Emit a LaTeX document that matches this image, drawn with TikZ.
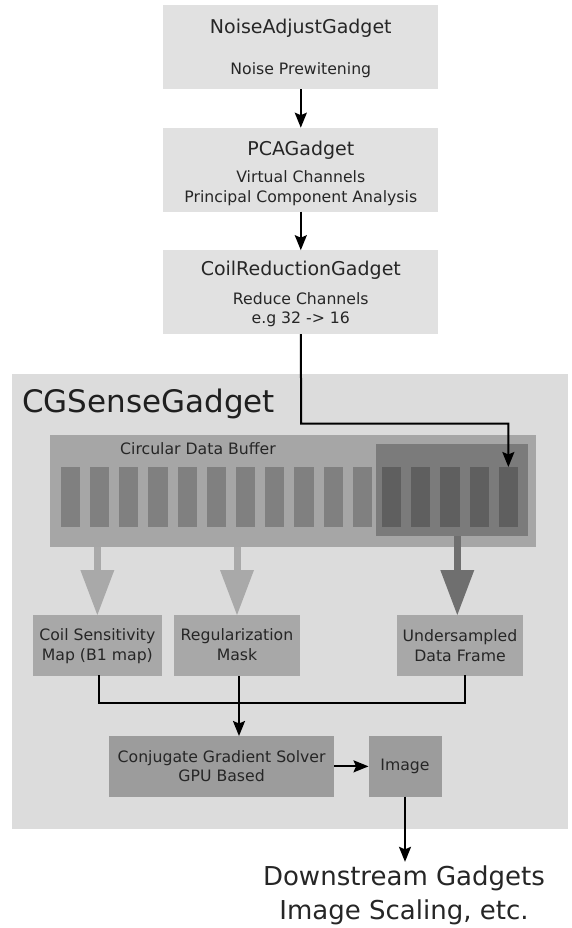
\documentclass[tikz,border=0pt]{standalone}
\usepackage{fontspec}
\setmainfont{DejaVu Sans}
\usetikzlibrary{arrows.meta,calc}
\definecolor{topfill}{HTML}{E1E1E1}
\definecolor{cgfill}{HTML}{DCDCDC}
\definecolor{buffill}{HTML}{A6A6A6}
\definecolor{barfill}{HTML}{808080}
\definecolor{innerfill}{HTML}{7B7B7B}
\definecolor{darkbarfill}{HTML}{5F5F5F}
\definecolor{midfill}{HTML}{A8A8A8}
\definecolor{solvefill}{HTML}{9C9C9C}
\definecolor{fatlight}{HTML}{A9A9A9}
\definecolor{fatdark}{HTML}{6F6F6F}
\definecolor{txt}{HTML}{262626}
\begin{document}
\begin{tikzpicture}[x=1pt,y=-1pt,
  plain/.style={draw=none,rectangle,inner sep=0pt,outer sep=0pt},
  topbox/.style={plain,fill=topfill,minimum width=275pt,minimum height=84pt},
  midbox/.style={plain,fill=midfill,minimum height=61pt},
  solvebox/.style={plain,fill=solvefill,minimum height=60.7pt},
  barbox/.style={plain,minimum width=19.3pt,minimum height=60pt},
  ttl/.style={anchor=base,inner sep=0pt,text=txt,font=\fontsize{19}{23}\selectfont},
  sub/.style={anchor=base,inner sep=0pt,text=txt,font=\fontsize{15.7}{19}\selectfont},
  big/.style={anchor=base,inner sep=0pt,text=txt,font=\fontsize{26}{33}\selectfont},
  arr/.style={draw=black,line width=2pt,-{Stealth[length=15pt,width=12pt,inset=2.5pt]}},
  conn/.style={draw=black,line width=2pt},
  fat/.style={line width=7pt,-{Triangle[length=45pt,width=34pt,line width=0pt]}}
]
\useasboundingbox[fill=white] (0,0) rectangle (572,928);

% top gadgets
\node[topbox] (noise) at (300.8,47.2) {};
\node[ttl] (noiseT) at (300.8,34) {NoiseAdjustGadget};
\node[sub] (noiseS) at (300.8,74.7) {Noise Prewitening};

\node[topbox] (pca) at (300.8,169.7) {};
\node[ttl] (pcaT) at (300.8,156) {PCAGadget};
\node[sub] (pcaS1) at (300.8,182.1) {Virtual Channels};
\node[sub] (pcaS2) at (300.8,202.1) {Principal Component Analysis};

\node[topbox] (coilred) at (300.8,292.2) {};
\node[ttl] (coilredT) at (300.8,275) {CoilReductionGadget};
\node[sub] (coilredS1) at (300.8,304.7) {Reduce Channels};
\node[sub] (coilredS2) at (300.8,323.7) {e.g 32 -> 16};

\draw[arr] (noise.south) -- (pca.north);
\draw[arr] (pca.south) -- (coilred.north);

% CGSense container
\node[plain,fill=cgfill,minimum width=555.5pt,minimum height=455pt] (cgs) at (289.75,601.5) {};
\node[anchor=base west,inner sep=0pt,text=black!88,font=\fontsize{31}{37}\selectfont] (cgsT) at (22,412) {CGSenseGadget};

% circular buffer
\node[plain,fill=buffill,minimum width=486pt,minimum height=112pt] (buf) at (293,490.5) {};
\node[plain,fill=innerfill,minimum width=152pt,minimum height=92pt] (inner) at (451.7,490) {};
\node[sub] (bufT) at (198,454.4) {Circular Data Buffer};
\foreach \i in {0,...,10}{
  \node[barbox,fill=barfill] (bar\i) at ({70.35+29.2*\i},497) {};
}
\foreach \i in {11,...,15}{
  \node[barbox,fill=darkbarfill] (bar\i) at ({70.35+29.2*\i},497) {};
}

\coordinate (corner) at (301.2,423.5);
\draw[arr] (coilred.south) -- (corner) -| (bar15.north);

% lower boxes
\node[midbox,minimum width=128.7pt] (coil) at (97.35,645.5) {};
\node[sub] (coilT1) at (97.35,640.9) {Coil Sensitivity};
\node[sub] (coilT2) at (97.35,660.9) {Map (B1 map)};

\node[midbox,minimum width=126pt] (reg) at (237,645.5) {};
\node[sub] (regT1) at (237,640.9) {Regularization};
\node[sub] (regT2) at (237,660.9) {Mask};

\node[midbox,minimum width=126.6pt] (und) at (460,645.5) {};
\node[sub] (undT1) at (460,641.9) {Undersampled};
\node[sub] (undT2) at (460,661.9) {Data Frame};

% fat arrows
\draw[fat,draw=fatlight,fill=fatlight] (coil.north |- buf.south) -- (coil.north);
\draw[fat,draw=fatlight,fill=fatlight] (reg.north |- buf.south) -- (reg.north);
\draw[fat,draw=fatdark,fill=fatdark] ([xshift=-2.7pt]und.north |- inner.south) -- ([xshift=-2.7pt]und.north);

% solver and image
\node[solvebox,minimum width=224.7pt] (cg) at (221.65,766.35) {};
\node[sub] (cgT1) at (221.65,762) {Conjugate Gradient Solver};
\node[sub] (cgT2) at (221.65,781.4) {GPU Based};

\node[solvebox,minimum width=73pt] (img) at (405,766.35) {};
\node[sub] (imgT) at (405,770.4) {Image};

% merge connectors
\coordinate (mergeY) at (0,702.7);
\draw[conn,line cap=rect] ([xshift=1.7pt]coil.south) -- ([xshift=1.7pt]coil.south |- mergeY) -- ([xshift=5pt]und.south |- mergeY) -- ([xshift=5pt]und.south);
\draw[arr] ([xshift=2pt]reg.south) -- ([xshift=2pt]reg.south |- cg.north);
\draw[arr] (cg.east) -- (img.west);

% downstream
\node[big] (ds1) at (404,885.8) {Downstream Gadgets};
\node[big] (ds2) at (404,919) {Image Scaling, etc.};
\draw[arr] (img.south) -- ([yshift=4pt]img.south |- ds1.north);
\end{tikzpicture}
\end{document}
